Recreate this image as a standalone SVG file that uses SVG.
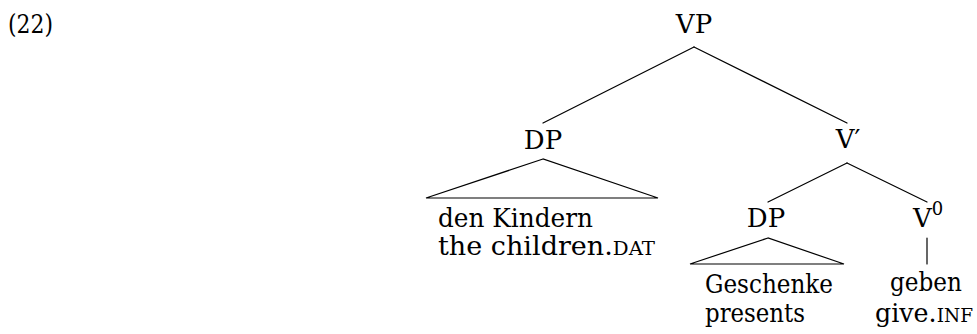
<svg xmlns="http://www.w3.org/2000/svg" width="977" height="334" viewBox="0 0 977 334">
  <style>
    .mid { text-anchor: middle; }
    .sc { font-size: 19px; }
    .edge { stroke: #000; stroke-width: 1.2; fill: none; stroke-linecap: round; }
    .tri { stroke: #000; stroke-width: 1.2; fill: none; stroke-linejoin: miter; }
  </style>

  <g font-family="'DejaVu Serif', 'Liberation Serif', serif" font-size="26" fill="#000">
  <!-- example number -->
  <text id="exnum" x="8" y="33" textLength="45" lengthAdjust="spacingAndGlyphs">(22)</text>

  <!-- branches -->
  <g id="connectors">
    <line class="edge" x1="694" y1="47" x2="543" y2="123"/>
    <line class="edge" x1="694" y1="47" x2="847" y2="123"/>
    <line class="edge" x1="847" y1="163" x2="768" y2="202"/>
    <line class="edge" x1="847" y1="163" x2="927" y2="202"/>
    <line class="edge" x1="927" y1="238" x2="927" y2="264"/>
  </g>

  <g id="vp">
    <text class="mid" x="694" y="33">VP</text>
  </g>

  <g id="dp-dat">
    <text class="mid" x="543" y="149">DP</text>
    <polygon class="tri" points="543,159 426,198 658,198"/>
    <text x="438" y="227" textLength="155" lengthAdjust="spacingAndGlyphs">den Kindern</text>
    <text x="438" y="255" textLength="217" lengthAdjust="spacingAndGlyphs">the children.<tspan class="sc">DAT</tspan></text>
  </g>

  <g id="vbar">
    <text class="mid" x="848" y="148">V′</text>
  </g>

  <g id="dp-obj">
    <text class="mid" x="766" y="227">DP</text>
    <polygon class="tri" points="768,238 690,264 844,264"/>
    <text x="705" y="293" textLength="128" lengthAdjust="spacingAndGlyphs">Geschenke</text>
    <text x="705" y="322" textLength="100" lengthAdjust="spacingAndGlyphs">presents</text>
  </g>

  <g id="v0">
    <text x="913" y="227">V<tspan font-size="18" dy="-12">0</tspan></text>
    <text x="890" y="291" textLength="72" lengthAdjust="spacingAndGlyphs">geben</text>
    <text x="875" y="322" textLength="98" lengthAdjust="spacingAndGlyphs">give.<tspan class="sc">INF</tspan></text>
  </g>
  </g>
</svg>
